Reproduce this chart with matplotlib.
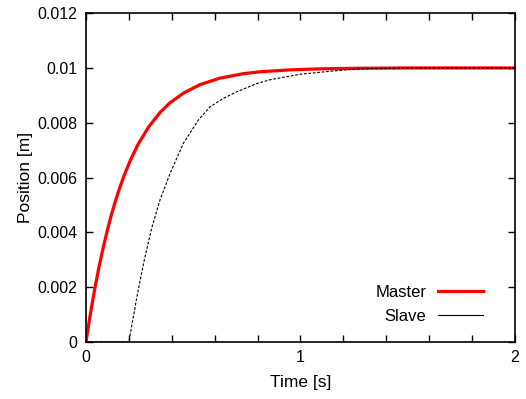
import matplotlib
matplotlib.use("Agg")
import matplotlib.pyplot as plt

plt.rcParams['font.family'] = ['Liberation Sans', 'DejaVu Sans']

# values
t_master = [0, 0.014, 0.028, 0.043, 0.061, 0.079, 0.099, 0.118, 0.137, 0.154, 0.177, 0.208,
            0.244, 0.294, 0.348, 0.392, 0.454, 0.531, 0.625, 0.733, 0.811, 0.95, 1.1, 1.277, 1.5, 2.0]
x_master = [0, 0.00071, 0.00137, 0.00203, 0.00275, 0.0034, 0.00406, 0.00463, 0.00514, 0.00555, 0.00606, 0.00665,
            0.00723, 0.00787, 0.0084, 0.00873, 0.00908, 0.00939, 0.00963, 0.00979, 0.00986, 0.00993, 0.00997, 0.00999, 0.01, 0.01]

t_slave = [0, 0.2, 0.211, 0.239, 0.270, 0.306, 0.345, 0.392, 0.454, 0.524, 0.578, 0.64, 0.703,
           0.796, 0.858, 0.998, 1.152, 1.28, 1.5, 2.0]
x_slave = [0, 0, 0.0005, 0.00171, 0.00293, 0.00415, 0.00518, 0.00615, 0.00725, 0.0081, 0.00858, 0.00889, 0.00913,
           0.00943, 0.00957, 0.00977, 0.00989, 0.00997, 0.01, 0.01]

fig = plt.figure(figsize=(5.26, 3.99), dpi=100)
ax = fig.add_axes([0.1635, 0.143, 0.8155, 0.824])

ax.plot(t_master, x_master, color='red', lw=2.3, label='Master')
ax.plot(t_slave, x_slave, color='black', lw=0.8, ls=(0, (2.5, 1.5)), label='Slave')

ax.set_xlim(0, 2)
ax.set_ylim(0, 0.012)
ax.set_xticks([i * 0.2 for i in range(11)])
ax.set_xticklabels(['0', '', '', '', '', '1', '', '', '', '', '2'])
ax.set_yticks([0, 0.002, 0.004, 0.006, 0.008, 0.01, 0.012])
ax.set_yticklabels(['0', '0.002', '0.004', '0.006', '0.008', '0.01', '0.012'])
ax.tick_params(direction='in', top=True, right=True, length=5, width=1, labelsize=11.5, pad=6)
for s in ax.spines.values():
    s.set_linewidth(1.2)

ax.set_xlabel('Time [s]', fontsize=12.5, labelpad=7)
ax.set_ylabel('Position [m]', fontsize=12.5, labelpad=3)

leg = ax.legend(loc='lower right', frameon=False, markerfirst=False, fontsize=12,
                handlelength=2.7, handletextpad=0.7, labelspacing=0.55,
                bbox_to_anchor=(0.96, 0.008))
leg.get_lines()[1].set_linestyle('-')

fig.savefig('out.png', dpi=100)
